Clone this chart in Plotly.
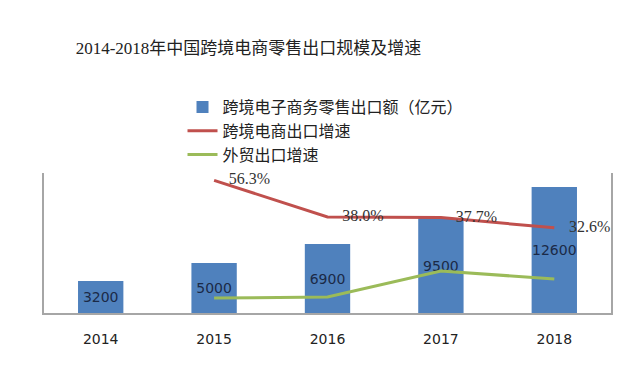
import plotly.graph_objects as go

years = ["2014", "2015", "2016", "2017", "2018"]
export_value = [3200, 5000, 6900, 9500, 12600]
ecom_growth_years = ["2015", "2016", "2017", "2018"]
ecom_growth = [56.3, 38.0, 37.7, 32.6]
trade_growth = [-2.5, -2.0, 11.0, 7.0]

BLUE = "#4F81BD"
RED = "#C0504D"
GREEN = "#9BBB59"

# page has an 8px body margin; figure coords = page coords - 8
W, H = 610, 355
L, R, T, B = 36, 605, 165, 305

fig = go.Figure()
fig.add_trace(go.Bar(
    x=years, y=export_value, name="跨境电子商务零售出口额（亿元）",
    marker=dict(color=BLUE, line=dict(width=0)), width=0.4,
    text=[str(v) for v in export_value], textposition="inside",
    insidetextanchor="middle", textangle=0, constraintext="none",
    textfont=dict(family="DejaVu Sans", size=14, color="#1B2A47"),
))
fig.add_trace(go.Scatter(
    x=ecom_growth_years, y=ecom_growth, name="跨境电商出口增速", yaxis="y2",
    mode="lines+markers+text", line=dict(color=RED, width=3),
    marker=dict(size=22, color="rgba(0,0,0,0)", line=dict(width=0)),
    text=[f"{v:.1f}%" for v in ecom_growth], textposition="middle right",
    textfont=dict(family="Liberation Serif", size=16, color="#333333"),
    cliponaxis=False,
))
fig.add_trace(go.Scatter(
    x=ecom_growth_years, y=trade_growth, name="外贸出口增速", yaxis="y2",
    mode="lines", line=dict(color=GREEN, width=3),
))

fig.update_layout(
    width=W, height=H,
    margin=dict(l=L, r=W - R, t=T, b=H - B),
    paper_bgcolor="white", plot_bgcolor="white",
    title=dict(
        text="2014-2018年中国跨境电商零售出口规模及增速",
        x=(248.5 - 8) / W, xanchor="center", xref="container",
        y=1 - (48 - 8) / H, yanchor="middle", yref="container",
        font=dict(family="Liberation Serif, Noto Sans CJK SC", size=17, color="#222222"),
    ),
    xaxis=dict(
        type="category", categoryorder="array", categoryarray=years,
        range=[-0.5, 4.5], showline=True, linecolor="#A6A6A6", linewidth=1.5,
        showgrid=False, ticks="", zeroline=False, ticklabelstandoff=12,
        tickfont=dict(family="DejaVu Sans", size=14, color="#222222"),
    ),
    yaxis=dict(
        range=[0, 14000], showline=True, mirror=True, linecolor="#A6A6A6",
        linewidth=1.5, showgrid=False, showticklabels=False, ticks="",
        zeroline=False,
    ),
    yaxis2=dict(
        range=[-10, 60], overlaying="y", side="right", visible=False,
        showgrid=False, zeroline=False,
    ),
    legend=dict(
        x=(175 - L) / (R - L), xanchor="left", y=(B - 82) / (B - T), yanchor="top",
        font=dict(family="Noto Sans CJK SC", size=16, color="#222222"),
        bgcolor="rgba(0,0,0,0)", traceorder="normal",
    ),
    showlegend=True,
)

fig.write_html("out.html")
